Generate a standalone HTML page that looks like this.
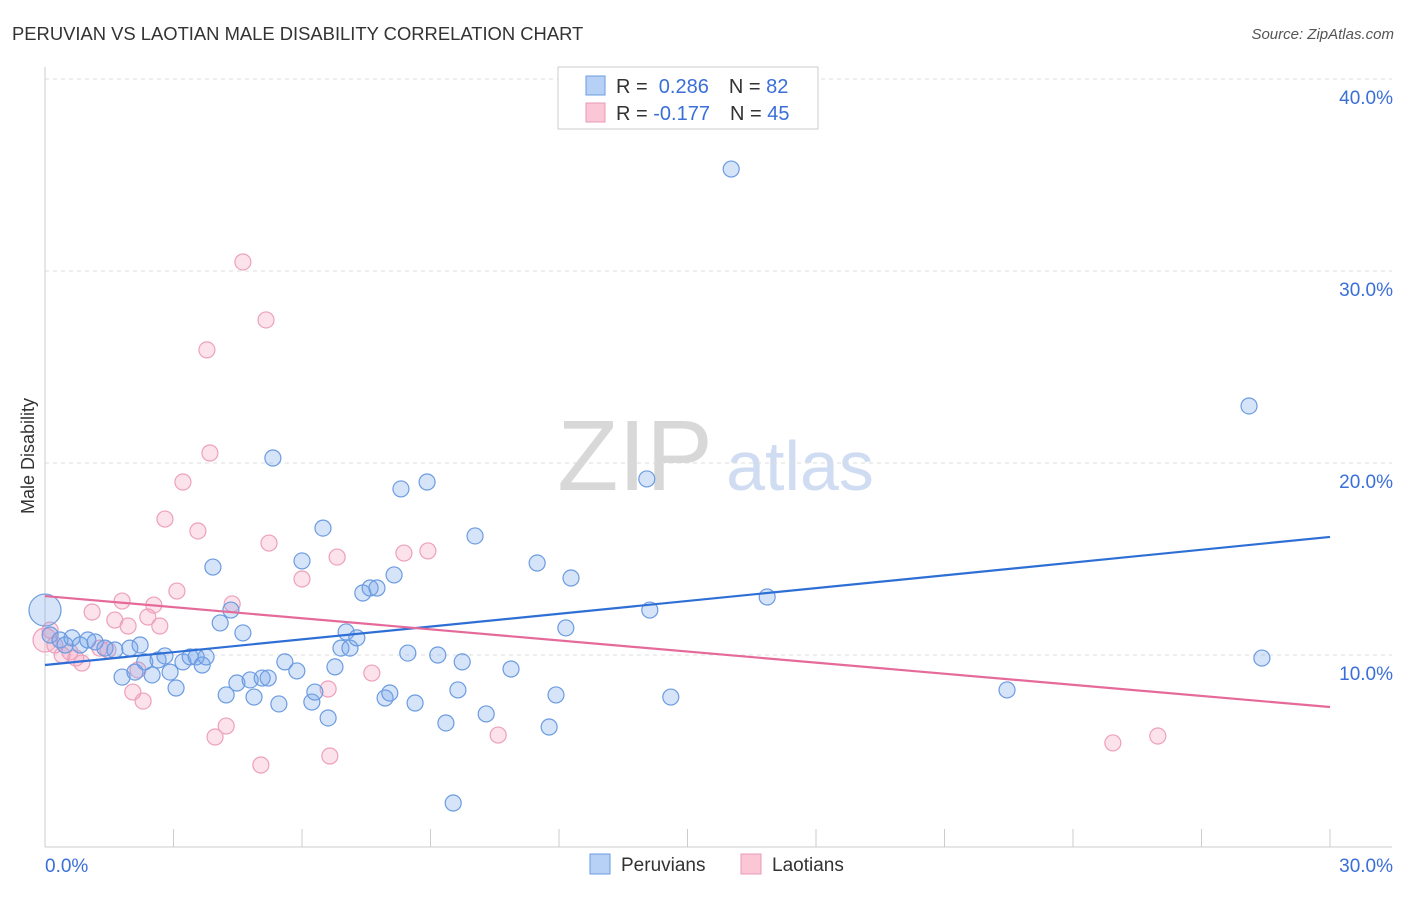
<!DOCTYPE html>
<html><head><meta charset="utf-8"><style>
body{margin:0;background:#fff;font-family:"Liberation Sans",sans-serif}
svg text{font-family:"Liberation Sans",sans-serif}
</style></head><body>
<svg id="c" width="1406" height="892" xmlns="http://www.w3.org/2000/svg">
<text x="12" y="40" font-size="18.4" fill="#333">PERUVIAN VS LAOTIAN MALE DISABILITY CORRELATION CHART</text>
<text x="1394" y="39" font-size="15" fill="#555" font-style="italic" text-anchor="end">Source: ZipAtlas.com</text>
<g>
<text x="635" y="490" font-size="100" fill="#d8d8d8" font-family="Liberation Serif" text-anchor="middle">ZIP</text>
<text x="800" y="490" font-size="70" fill="#cfdcf2" text-anchor="middle">atlas</text>
</g>
<g id="grid"></g>
<g id="axes"></g>
<g id="marks"></g>
<text transform="translate(34,456) rotate(-90)" font-size="18" fill="#333" text-anchor="middle">Male Disability</text>
<g>
<rect x="558" y="67" width="260" height="62" fill="#fff" stroke="#ccc"/>
<rect x="586" y="76" width="19" height="19" fill="#b7d0f5" stroke="#6b9be0"/>
<rect x="586" y="103" width="19" height="19" fill="#fbc7d7" stroke="#e898b5"/>
<text x="616" y="93" font-size="20" fill="#333">R = <tspan fill="#3a6fd8">&#160;0.286</tspan><tspan dx="20">N = </tspan><tspan fill="#3a6fd8">82</tspan></text>
<text x="616" y="120" font-size="20" fill="#333">R = <tspan fill="#3a6fd8">-0.177</tspan><tspan dx="20">N = </tspan><tspan fill="#3a6fd8">45</tspan></text>
</g>
<g>
<rect x="590" y="854" width="20" height="20" fill="#b7d0f5" stroke="#6b9be0"/>
<text x="621" y="871" font-size="19" fill="#333">Peruvians</text>
<rect x="741" y="854" width="20" height="20" fill="#fbc7d7" stroke="#e898b5"/>
<text x="772" y="871" font-size="19" fill="#333">Laotians</text>
</g>
</svg>
<script>
const yTicks=[10,20,30,40];
const yTickLabels=["10.0%","20.0%","30.0%","40.0%"];
const xTickLabels=["0.0%","30.0%"];
const blueX=[0,0.12,0.35,0.47,0.63,0.82,1.00,1.17,1.40,1.63,1.98,2.22,1.80,2.10,2.33,2.50,2.64,2.80,2.92,3.06,3.22,3.39,3.53,3.67,3.76,3.92,4.09,4.23,4.34,4.48,4.62,4.79,4.88,5.07,5.21,5.32,5.46,5.60,5.88,6.00,6.23,6.30,6.49,6.61,6.77,6.91,7.03,7.12,7.28,7.42,7.59,7.75,7.94,8.05,8.15,8.31,8.47,8.64,8.92,9.17,9.36,9.53,9.64,9.74,10.04,10.30,10.88,11.49,11.77,11.93,12.16,12.28,14.05,14.12,14.61,16.02,16.86,22.46,28.11,28.41];
const blueY=[12.34,11.04,10.78,10.52,10.89,10.52,10.78,10.68,10.36,10.26,10.36,10.52,8.85,9.11,9.64,8.96,9.74,9.95,9.11,8.28,9.64,9.90,9.90,9.48,9.90,14.58,11.67,7.92,12.34,8.54,11.15,8.70,7.81,8.80,8.80,20.26,7.45,9.64,9.17,14.90,7.55,8.07,16.61,6.72,9.38,10.36,11.20,10.36,10.89,13.23,13.49,13.49,7.76,8.02,14.17,18.65,10.10,7.50,19.01,10.00,6.46,2.29,8.18,9.64,16.20,6.93,9.27,14.79,6.25,7.92,11.41,14.01,19.17,12.34,7.81,35.31,13.02,8.18,22.97,9.84];
const pinkX=[0,0.12,0.23,0.40,0.58,0.72,0.86,1.10,1.28,1.47,1.63,1.80,1.94,2.05,2.17,2.29,2.40,2.54,2.68,2.80,3.08,3.22,3.57,3.78,3.85,3.97,4.23,4.37,4.62,5.04,5.16,5.23,6.00,6.61,6.65,6.82,7.63,8.38,8.94,10.58,24.93,25.98];
const pinkY=[10.78,11.30,10.52,10.00,10.16,9.84,9.58,12.24,10.36,10.26,11.82,12.81,11.51,8.07,9.22,7.60,11.98,12.60,11.51,17.08,13.33,19.01,16.46,25.89,20.52,5.73,6.30,12.66,30.47,4.27,27.45,15.83,13.96,8.23,4.74,15.10,9.06,15.31,15.42,5.83,5.42,5.78];
const blueTrend=[9.48,16.15];
const pinkTrend=[13.07,7.29];
const NS="http://www.w3.org/2000/svg";
const sx=v=>45+v/30*1285;
const sy=v=>847-v*19.2;
function mk(tag,attrs,parent){const e=document.createElementNS(NS,tag);for(const k in attrs)e.setAttribute(k,attrs[k]);document.getElementById(parent).appendChild(e);return e;}
yTicks.forEach((t,i)=>{
  const g=mk('line',{x1:45,x2:1392,y1:sy(t),y2:sy(t),stroke:'#ddd','stroke-dasharray':'4,4'},'grid');
  
  
  const l=mk('text',{x:1393,y:sy(t)+25,'font-size':19,fill:'#3a6fd8','text-anchor':'end'},'axes');
  l.textContent=yTickLabels[i];
  
  
});
let ax=mk('line',{x1:45,x2:45,y1:67,y2:847,stroke:'#ccc'},'axes');


ax=mk('line',{x1:45,x2:1392,y1:847,y2:847,stroke:'#ccc'},'axes');


for(let i=0;i<=10;i++){
  const t=mk('line',{x1:sx(i*3),x2:sx(i*3),y1:829,y2:847,stroke:'#ccc'},'axes');
  
  
}
let xl=mk('text',{x:45,y:872,'font-size':19,fill:'#3a6fd8'},'axes');xl.textContent=xTickLabels[0];


xl=mk('text',{x:1393,y:872,'font-size':19,fill:'#3a6fd8','text-anchor':'end'},'axes');xl.textContent=xTickLabels[1];


pinkX.forEach((x,i)=>{
  const c=mk('circle',{cx:sx(x),cy:sy(pinkY[i]),r:i===0?12:8,fill:'rgba(246,160,190,0.3)',stroke:'#eda0bb','stroke-width':1.2},'marks');
  
  
});
blueX.forEach((x,i)=>{
  const c=mk('circle',{cx:sx(x),cy:sy(blueY[i]),r:i===0?16:8,fill:'rgba(120,165,235,0.3)',stroke:'#6b9be0','stroke-width':1.2},'marks');
  
  
});
let tl=mk('line',{x1:sx(0),x2:sx(30),y1:sy(blueTrend[0]),y2:sy(blueTrend[1]),stroke:'#2e6fd6','stroke-width':2.2},'marks');


tl=mk('line',{x1:sx(0),x2:sx(30),y1:sy(pinkTrend[0]),y2:sy(pinkTrend[1]),stroke:'#e56a9a','stroke-width':2.2},'marks');


</script>
</body></html>
